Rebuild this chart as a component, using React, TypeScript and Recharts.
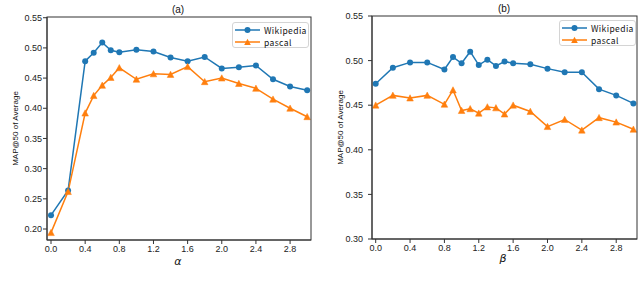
import React from "react";
import { LineChart, Line, XAxis, YAxis, Legend } from "recharts";

const BLUE = "#1f77b4";
const ORANGE = "#ff7f0e";
const AXIS = "#333333";

// (a) alpha sweep
const alphaX = [0, 0.2, 0.4, 0.5, 0.6, 0.7, 0.8, 1.0, 1.2, 1.4, 1.6, 1.8, 2.0, 2.2, 2.4, 2.6, 2.8, 3.0];
const alphaWiki = [0.223, 0.264, 0.478, 0.492, 0.509, 0.496, 0.493, 0.497, 0.494, 0.484, 0.478, 0.485, 0.466, 0.468, 0.471, 0.448, 0.436, 0.43];
const alphaPascal = [0.194, 0.262, 0.392, 0.421, 0.438, 0.451, 0.467, 0.448, 0.457, 0.456, 0.469, 0.444, 0.45, 0.441, 0.433, 0.415, 0.4, 0.386];

// (b) beta sweep
const betaX = [0, 0.2, 0.4, 0.6, 0.8, 0.9, 1.0, 1.1, 1.2, 1.3, 1.4, 1.5, 1.6, 1.8, 2.0, 2.2, 2.4, 2.6, 2.8, 3.0];
const betaWiki = [0.474, 0.492, 0.498, 0.498, 0.49, 0.504, 0.497, 0.51, 0.495, 0.501, 0.494, 0.499, 0.497, 0.496, 0.491, 0.487, 0.487, 0.468, 0.461, 0.452];
const betaPascal = [0.45, 0.461, 0.458, 0.461, 0.451, 0.467, 0.444, 0.446, 0.441, 0.448, 0.447, 0.44, 0.45, 0.443, 0.426, 0.434, 0.422, 0.436, 0.431, 0.423];

const xTicks = [0, 0.4, 0.8, 1.2, 1.6, 2.0, 2.4, 2.8];
const yTicksA = [0.2, 0.25, 0.3, 0.35, 0.4, 0.45, 0.5, 0.55];
const yTicksB = [0.3, 0.35, 0.4, 0.45, 0.5, 0.55];

const seriesNames = { wikipedia: "Wikipedia", pascal: "pascal" };
const yLabel = "MAP@50 of Average";

const dataA = alphaX.map((x, i) => ({ x, wikipedia: alphaWiki[i], pascal: alphaPascal[i] }));
const dataB = betaX.map((x, i) => ({ x, wikipedia: betaWiki[i], pascal: betaPascal[i] }));

const CHART_W = 320;
const CHART_H = 297;
const X_AXIS_H = 30;

const tickFont = { fontFamily: "Liberation Sans, Arial, sans-serif", fontSize: 9, fill: "#222" };

const TriangleDot = (props: any) => {
  const { cx, cy, index } = props;
  if (cx == null || cy == null) return null;
  const s = 3.3;
  return (
    <path
      key={"tri-" + index}
      d={`M${cx},${cy - s} L${cx + s},${cy + s * 0.9} L${cx - s},${cy + s * 0.9} Z`}
      fill={ORANGE}
      stroke={ORANGE}
      strokeWidth={0.5}
    />
  );
};

const LegendBox = (props: any) => {
  const { payload } = props;
  const items = (payload || []) as any[];
  return (
    <div
      style={{
        position: "relative",
        width: 77,
        height: 26,
        border: "1px solid #d4d4d4",
        borderRadius: 3,
        background: "#fff",
        boxSizing: "border-box",
      }}
    >
      {items.map((it, i) => {
        const isTri = it.dataKey === "pascal";
        return (
          <div key={i} style={{ position: "absolute", left: 2, top: 2 + i * 11.5, height: 10, display: "flex", alignItems: "center" }}>
            <svg width={26} height={10} style={{ display: "block" }}>
              <line x1={0} y1={5} x2={25} y2={5} stroke={it.color} strokeWidth={1.5} />
              {isTri ? (
                <path d="M12.5,1.7 L15.8,8 L9.2,8 Z" fill={it.color} />
              ) : (
                <circle cx={12.5} cy={5} r={3} fill={it.color} />
              )}
            </svg>
            <span
              style={{
                marginLeft: 3,
                fontFamily: "Noto Sans CJK SC, sans-serif",
                fontSize: 8.5,
                letterSpacing: 0.4,
                color: "#111",
                lineHeight: "10px",
                whiteSpace: "nowrap",
              }}
            >
              {it.value}
            </span>
          </div>
        );
      })}
    </div>
  );
};

type PanelProps = {
  data: any[];
  left: number;
  xDomain: [number, number];
  yDomain: [number, number];
  yTicks: number[];
  yAxisWidth: number;
  margin: { top: number; right: number; bottom: number; left: number };
  yTickMargin: number;
  legendPos: { left: number; top: number };
};

const Panel = ({ data, left, xDomain, yDomain, yTicks, yAxisWidth, margin, yTickMargin, legendPos }: PanelProps) => {
  // plot-area frame derived from the chart's layout parameters (matplotlib-style spines)
  const px = margin.left + yAxisWidth;
  const py = margin.top;
  const pw = CHART_W - px - margin.right;
  const ph = CHART_H - margin.top - margin.bottom - X_AXIS_H;
  return (
    <div style={{ position: "absolute", left, top: 0, width: CHART_W, height: CHART_H }}>
      <LineChart width={CHART_W} height={CHART_H} data={data} margin={margin}>
        <XAxis
          dataKey="x"
          type="number"
          domain={xDomain}
          ticks={xTicks}
          tickFormatter={(v: number) => v.toFixed(1)}
          tick={tickFont}
          tickSize={4}
          tickMargin={2}
          height={X_AXIS_H}
          stroke={AXIS}
          interval={0}
        />
        <YAxis
          type="number"
          domain={yDomain}
          ticks={yTicks}
          tickFormatter={(v: number) => v.toFixed(2)}
          tick={tickFont}
          tickSize={4}
          tickMargin={yTickMargin}
          width={yAxisWidth}
          stroke={AXIS}
          interval={0}
        />
        <Legend
          layout="vertical"
          align="center"
          verticalAlign="middle"
          content={<LegendBox />}
          wrapperStyle={{ position: "absolute", left: legendPos.left, top: legendPos.top, width: 77, height: 26 }}
        />
        <Line
          type="linear"
          dataKey="wikipedia"
          name={seriesNames.wikipedia}
          stroke={BLUE}
          strokeWidth={1.5}
          dot={{ r: 3, fill: BLUE, stroke: BLUE, strokeWidth: 0 }}
          activeDot={false}
          isAnimationActive={false}
        />
        <Line
          type="linear"
          dataKey="pascal"
          name={seriesNames.pascal}
          stroke={ORANGE}
          strokeWidth={1.5}
          dot={TriangleDot}
          activeDot={false}
          isAnimationActive={false}
        />
      </LineChart>
      <svg width={CHART_W} height={CHART_H} style={{ position: "absolute", left: 0, top: 0, pointerEvents: "none" }}>
        <rect x={px} y={py} width={pw} height={ph} fill="none" stroke={AXIS} strokeWidth={1} />
      </svg>
    </div>
  );
};

export default function App() {
  return (
    <div style={{ position: "absolute", left: 0, top: 0, width: 640, height: 297, background: "#fff", overflow: "hidden" }}>
      <Panel
        data={dataA}
        left={0}
        xDomain={[-0.047, 3.045]}
        yDomain={[0.1818, 0.5512]}
        yTicks={yTicksA}
        yAxisWidth={47}
        margin={{ top: 17, right: 9, bottom: 27, left: 0 }}
        yTickMargin={1}
        legendPos={{ left: 232, top: 22 }}
      />
      <Panel
        data={dataB}
        left={320}
        xDomain={[-0.043, 3.042]}
        yDomain={[0.3, 0.55]}
        yTicks={yTicksB}
        yAxisWidth={52}
        margin={{ top: 16, right: 3, bottom: 28, left: 0 }}
        yTickMargin={5}
        legendPos={{ left: 239, top: 20 }}
      />
      <svg width={640} height={297} style={{ position: "absolute", left: 0, top: 0, pointerEvents: "none" }}>
        <text x={178} y={12.5} textAnchor="middle" fontFamily="Liberation Sans, Arial, sans-serif" fontSize={10} fill="#111">(a)</text>
        <text x={504} y={11.5} textAnchor="middle" fontFamily="Liberation Sans, Arial, sans-serif" fontSize={10} fill="#111">(b)</text>
        <text
          x={15}
          y={128.5}
          transform="rotate(-90 15 128.5)"
          textAnchor="middle"
          dominantBaseline="central"
          fontFamily="Liberation Sans, Arial, sans-serif"
          fontSize={8}
          fill="#111"
        >
          {yLabel}
        </text>
        <text
          x={340}
          y={127.5}
          transform="rotate(-90 340 127.5)"
          textAnchor="middle"
          dominantBaseline="central"
          fontFamily="Liberation Sans, Arial, sans-serif"
          fontSize={8}
          fill="#111"
        >
          {yLabel}
        </text>
        <text x={178} y={264.5} textAnchor="middle" fontFamily="DejaVu Sans, sans-serif" fontStyle="italic" fontSize={11} fill="#111">α</text>
        <text x={503} y={261.5} textAnchor="middle" fontFamily="DejaVu Sans, sans-serif" fontStyle="italic" fontSize={11} fill="#111">β</text>
      </svg>
    </div>
  );
}
